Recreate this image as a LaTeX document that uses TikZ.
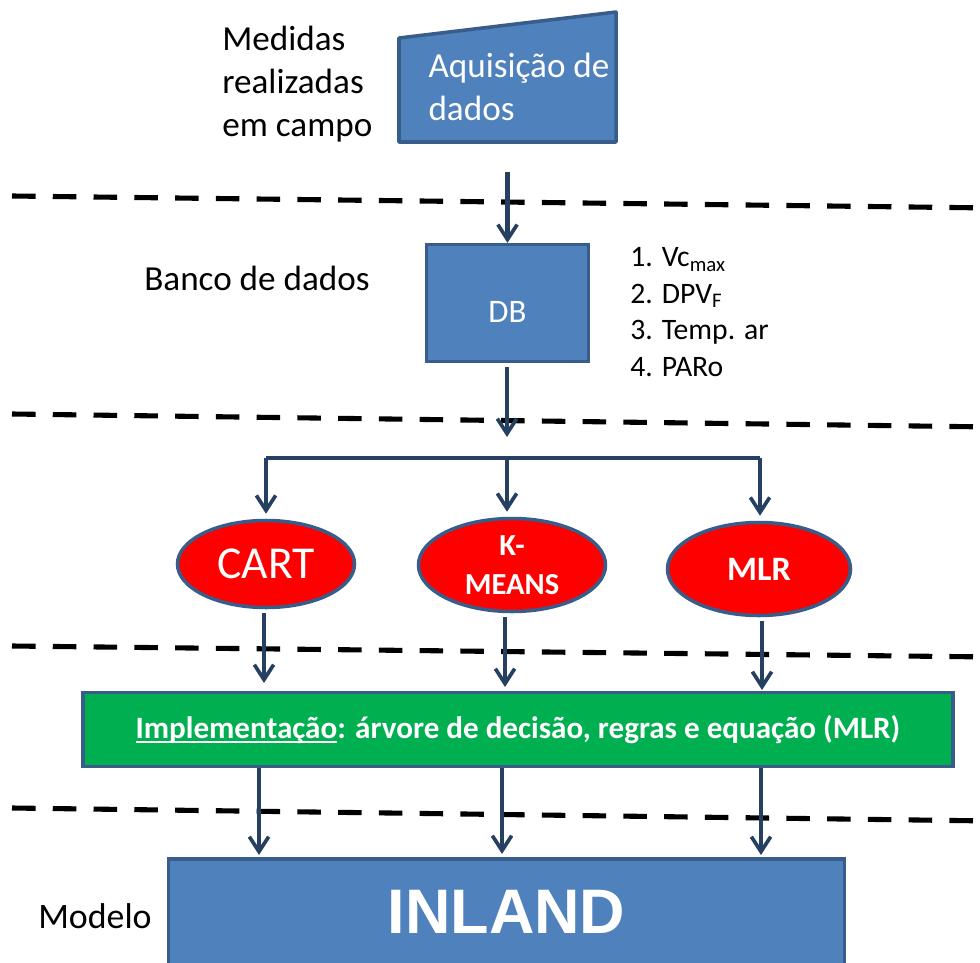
\documentclass[tikz,border=0pt]{standalone}
\usepackage{fontspec}
\setmainfont{Carlito}
\usetikzlibrary{shapes.geometric, arrows.meta, positioning}
\newsavebox{\ulbox}
\newcommand{\thickul}[1]{\sbox{\ulbox}{#1}\usebox{\ulbox}\llap{\rule[-2.8pt]{\wd\ulbox}{1.3pt}}}

\begin{document}
\begin{tikzpicture}[
    x=0.02cm, y=-0.02cm,
    bluebox/.style={rectangle, draw=boxline, fill=boxblue, line width=2pt, text=white, align=center},
    method/.style={ellipse, draw=boxline, fill=red, line width=2pt, text=white, align=center, inner sep=0pt},
    note/.style={align=left, inner sep=0pt, text=black},
    limit/.style={black, line width=2.9pt, dash pattern=on 13.4pt off 9.8pt},
    arrow/.style={-{Straight Barb[length=8.5pt, width=11pt, line width=2.1pt]}, line width=2.3pt, draw=arrowblue}
]
\definecolor{boxblue}{HTML}{4F81BD}
\definecolor{boxline}{HTML}{385D8A}
\definecolor{arrowblue}{HTML}{254061}
\definecolor{implgreen}{HTML}{00B050}

\useasboundingbox (0,0) rectangle (980,963);
\clip (0,0) rectangle (980,963);

% dashed separators
\coordinate (sepa) at (12,196);  \coordinate (sepb) at (992,208);
\coordinate (sepc) at (12,414);  \coordinate (sepd) at (992,427);
\coordinate (sepe) at (12,646);  \coordinate (sepf) at (992,657);
\coordinate (sepg) at (12,808);  \coordinate (seph) at (992,821);
\draw[limit] (sepa) -- (sepb);
\draw[limit] (sepc) -- (sepd);
\draw[limit] (sepe) -- (sepf);
\draw[limit] (sepg) -- (seph);

% acquisition
\fill[boxblue, draw=boxline, line width=2pt, line join=round] (399,38) -- (616,12) -- (616,142) -- (399,142) -- cycle;
\node[minimum width=217*0.02cm, minimum height=104*0.02cm, inner sep=0pt] (aquisicao) at (507.5,90) {};
\node[note, text=white, font=\fontsize{20}{24.5}\selectfont] (aquisicaotext) at (519,87) {Aquisição de\\dados};
\node[note, font=\fontsize{20}{24.5}\selectfont, anchor=west] (medidas) at (222,84) {Medidas\\realizadas\\em campo};

% database
\node[bluebox, cylinder, shape border rotate=90, aspect=1, minimum width=162*0.02cm, minimum height=117*0.02cm, inner sep=0pt, font=\fontsize{18.7}{22}\selectfont] (db) at (507.5,304) {};
\node[text=white, inner sep=0pt, font=\fontsize{18.7}{22}\selectfont] (dbtext) at (507.5,312) {DB};
\node[note, font=\fontsize{20}{24.5}\selectfont] (banco) at (257,278) {Banco de dados};
\node[note, font=\fontsize{16.9}{20.8}\selectfont, anchor=west] (vars) at (630,312) {1. Vc\textsubscript{max}\\2. DPV\textsubscript{F}\\3. Temp. ar\\4. PARo};

% methods
\node[method, minimum width=177*0.02cm, minimum height=87*0.02cm, font=\fontsize{26}{30}\selectfont] (cart) at (266,564) {CART};
\node[method, minimum width=187*0.02cm, minimum height=93*0.02cm, font=\fontsize{17.4}{22}\selectfont\bfseries] (kmeans) at (512,565) {K-\\MEANS};
\node[method, minimum width=183*0.02cm, minimum height=93*0.02cm, font=\fontsize{19.5}{23}\selectfont\bfseries] (mlr) at (759,569) {MLR};

% implementation and model
\node[bluebox, fill=implgreen, minimum width=870*0.02cm, minimum height=74*0.02cm, font=\fontsize{17.7}{21}\selectfont\bfseries] (impl) at (518,729.5) {\thickul{Implementação}: árvore de decisão, regras e equação (MLR)};
\node[bluebox, minimum width=676*0.02cm, minimum height=106*0.02cm, font=\fontsize{35.8}{40}\selectfont\fontspec{Liberation Sans}\bfseries] (inland) at (506.5,912) {INLAND};
\node[note, font=\fontsize{20.4}{24.5}\selectfont] (modelo) at (95,916) {Modelo};

% free ends of the connectors
\coordinate (dbtip) at (507,437);
\coordinate (split) at (507,458);
\coordinate (splitl) at (266,458);
\coordinate (splitr) at (760,458);
\coordinate (carttip) at (264,683);
\coordinate (kmeanstip) at (505,687);
\coordinate (mlrtip) at (762,690);
\coordinate (inlandl) at (259,855);
\coordinate (inlandm) at (502,854);
\coordinate (inlandr) at (761,855);

% connectors
\draw[arrow, shorten <=30*0.02cm] (aquisicao.south) -- (aquisicao.south |- db.north);
\draw[arrow, shorten <=4*0.02cm] (db.south -| dbtip) -- (dbtip);
\draw[line width=2.3pt, draw=arrowblue] (splitl) -- (splitr);
\draw[arrow, shorten >=5*0.02cm] (split) -- (split |- kmeans.north);
\draw[arrow, shorten >=5*0.02cm] (splitl) -- (splitl |- cart.north);
\draw[arrow, shorten >=5*0.02cm] (splitr) -- (splitr |- mlr.north);

\draw[arrow, shorten <=4*0.02cm] (cart.south -| carttip) -- (carttip);
\draw[arrow, shorten <=4*0.02cm] (kmeans.south -| kmeanstip) -- (kmeanstip);
\draw[arrow, shorten <=4*0.02cm] (mlr.south -| mlrtip) -- (mlrtip);
\draw[arrow] (impl.south -| inlandl) -- (inlandl);
\draw[arrow] (impl.south -| inlandm) -- (inlandm);
\draw[arrow] (impl.south -| inlandr) -- (inlandr);
\end{tikzpicture}
\end{document}
